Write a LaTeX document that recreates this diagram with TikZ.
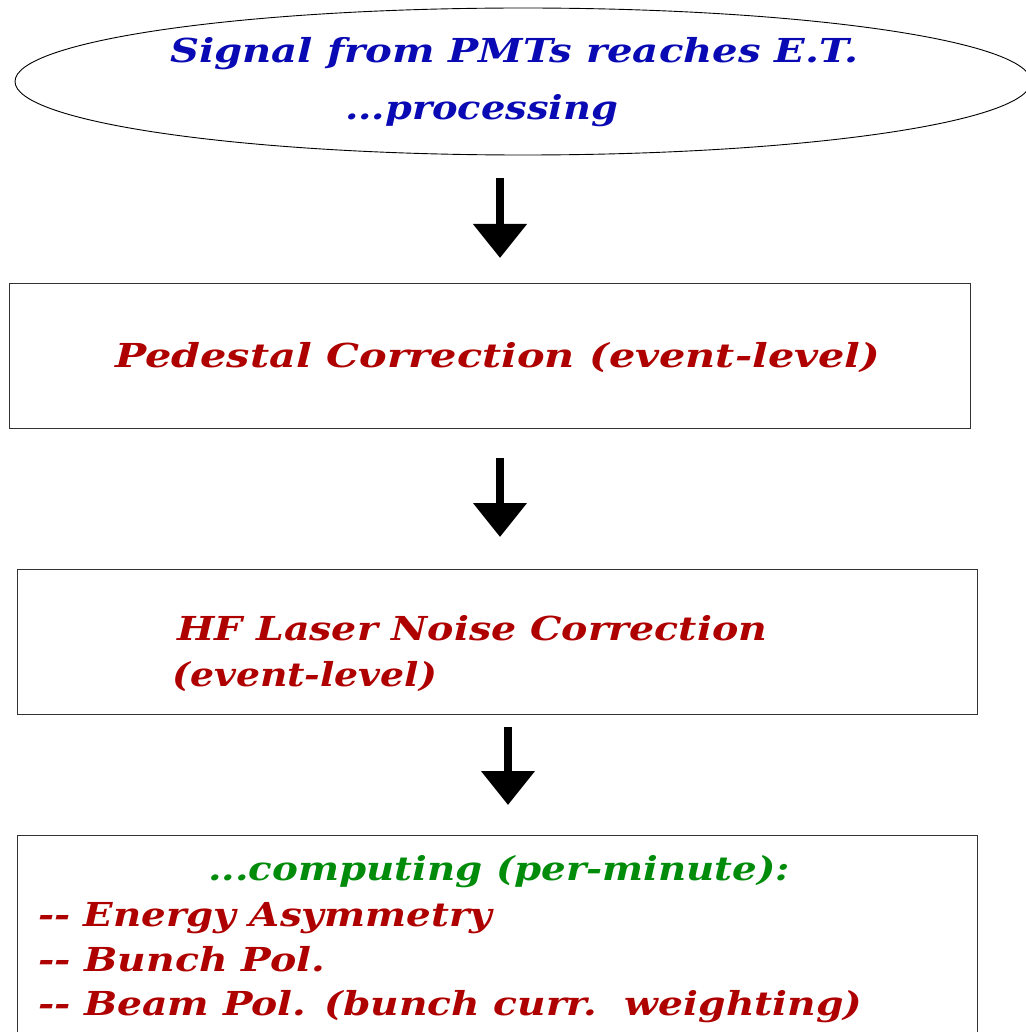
\documentclass[tikz,border=0pt]{standalone}
\usepackage{fontspec}
\usepackage{graphicx}
\setmainfont{DejaVu Serif}
\usetikzlibrary{shapes.geometric,arrows.meta}
\definecolor{tblue}{RGB}{10,10,180}
\definecolor{tred}{RGB}{175,0,0}
\definecolor{tgreen}{RGB}{0,140,10}
\newcommand\mystretch[2]{\resizebox{#1pt}{\height}{#2}}
\tikzset{
  boxst/.style={draw=black!80, line width=0.9pt, anchor=north west, inner sep=0pt},
  arr/.style={line width=8pt, -{Triangle[width=52pt,length=34pt]}},
  txt/.style={inner sep=0pt, anchor=base west, font=\bfseries\itshape\fontsize{33}{40}\selectfont},
}
\begin{document}
\begin{tikzpicture}[x=1pt,y=-1pt]
\useasboundingbox (0,0) rectangle (1025,1032);
% ellipse
\node[ellipse, draw=black, line width=0.9pt, minimum width=1016pt, minimum height=147pt, inner sep=0pt] (ell) at (523,81.5) {};
\node[txt, text=tblue] (t1) at (170,63) {\mystretch{688}{Signal from PMTs reaches E.T.}};
\node[txt, text=tblue] (t2) at (345,120) {\mystretch{273}{...processing}};
% boxes
\node[boxst, minimum width=961pt, minimum height=145pt] (b1) at (9,283) {};
\node[txt, text=tred] (t3) at (115,367) {\mystretch{765}{Pedestal Correction (event-level)}};
\node[boxst, minimum width=960pt, minimum height=145pt] (b2) at (17,569) {};
\node[txt, text=tred] (t4) at (177,640) {\mystretch{590}{HF Laser Noise Correction}};
\node[txt, text=tred] (t5) at (172,686) {\mystretch{265}{(event-level)}};
\node[boxst, minimum width=960pt, minimum height=215pt] (b3) at (17,835) {};
\node[txt, text=tgreen] (t6) at (208,880) {\mystretch{582}{...computing (per-minute):}};
\node[txt, text=tred] (t7) at (38,926) {\mystretch{454}{-\kern0pt- Energy Asymmetry}};
\node[txt, text=tred] (t8) at (38,971) {\mystretch{287}{-\kern0pt- Bunch Pol.}};
\node[txt, text=tred] (t9) at (38,1015) {\mystretch{824}{-\kern0pt- Beam Pol. (bunch curr.\ \ weighting)}};
% arrows
\coordinate (a1s) at (500,178);
\coordinate (a1e) at (500,258);
\coordinate (a2s) at (500,458);
\coordinate (a2e) at (500,537);
\coordinate (a3s) at (508,727);
\coordinate (a3e) at (508,805);
\draw[arr] (a1s) -- (a1e);
\draw[arr] (a2s) -- (a2e);
\draw[arr] (a3s) -- (a3e);
\end{tikzpicture}
\end{document}
